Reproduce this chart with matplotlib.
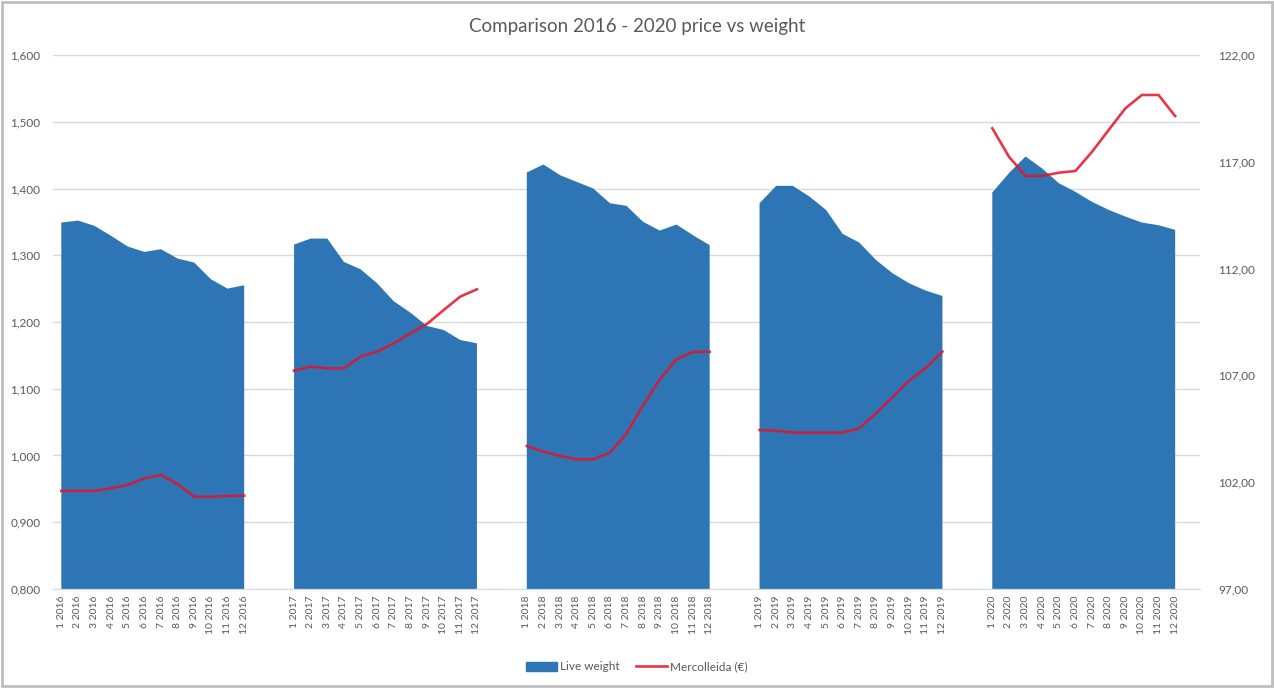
import numpy as np
import matplotlib
matplotlib.use("Agg")
import matplotlib.pyplot as plt
from matplotlib.patches import Rectangle
from matplotlib.ticker import FixedLocator, FuncFormatter

plt.rcParams['font.family'] = ['Lato', 'DejaVu Sans']

years = [2016, 2017, 2018, 2019, 2020]
months = list(range(1, 13))

weight_2016 = [1.349, 1.352, 1.344, 1.329, 1.313, 1.305, 1.309, 1.295, 1.289, 1.264, 1.250, 1.255]
weight_2017 = [1.316, 1.325, 1.325, 1.290, 1.279, 1.258, 1.231, 1.214, 1.194, 1.188, 1.173, 1.168]
weight_2018 = [1.424, 1.436, 1.420, 1.410, 1.400, 1.378, 1.374, 1.350, 1.337, 1.346, 1.330, 1.315]
weight_2019 = [1.378, 1.404, 1.404, 1.388, 1.368, 1.332, 1.319, 1.293, 1.273, 1.258, 1.247, 1.239]
weight_2020 = [1.394, 1.423, 1.448, 1.430, 1.408, 1.395, 1.380, 1.368, 1.358, 1.349, 1.345, 1.338]

price_2016 = [101.59, 101.59, 101.59, 101.71, 101.87, 102.18, 102.34, 101.90, 101.32, 101.32, 101.35, 101.37]
price_2017 = [107.22, 107.41, 107.33, 107.33, 107.88, 108.11, 108.50, 108.97, 109.41, 110.06, 110.69, 111.03]
price_2018 = [103.69, 103.43, 103.23, 103.07, 103.07, 103.38, 104.29, 105.61, 106.82, 107.75, 108.10, 108.10]
price_2019 = [104.44, 104.41, 104.32, 104.32, 104.32, 104.32, 104.52, 105.22, 105.98, 106.76, 107.35, 108.11]
price_2020 = [118.57, 117.24, 116.34, 116.34, 116.49, 116.57, 117.47, 118.49, 119.50, 120.13, 120.13, 119.14]

weights = [weight_2016, weight_2017, weight_2018, weight_2019, weight_2020]
prices = [price_2016, price_2017, price_2018, price_2019, price_2020]

left_ticks = [0.8, 0.9, 1.0, 1.1, 1.2, 1.3, 1.4, 1.5, 1.6]
right_ticks = [97, 102, 107, 112, 117, 122]

title = "Comparison 2016 - 2020 price vs weight"
label_weight = "Live weight"
label_price = "Mercolleida (€)"

# Build category sequence: 12 months per year, 2 blank categories between years
cats, w_vals, p_vals = [], [], []
for k, y in enumerate(years):
    for m in months:
        cats.append(f"{m} {y}")
    w_vals.extend(weights[k])
    p_vals.extend(prices[k])
    if k < len(years) - 1:
        cats.extend(["", ""])
        w_vals.extend([np.nan, np.nan])
        p_vals.extend([np.nan, np.nan])

x = np.arange(len(cats))
w_vals = np.array(w_vals, dtype=float)
p_vals = np.array(p_vals, dtype=float)

fig = plt.figure(figsize=(12.74, 6.88), dpi=100)
ax = fig.add_axes([0.0416, 0.144, 0.942 - 0.0416, 0.92 - 0.144])
ax2 = ax.twinx()

blue = '#2E75B6'
ax.fill_between(x, 0.8, w_vals, where=~np.isnan(w_vals), color=blue, lw=0, zorder=2,
                label=label_weight)
line, = ax2.plot(x, p_vals, color='#E0142A', lw=1.9, alpha=0.85, zorder=3, label=label_price,
                 solid_joinstyle='round')

ax.set_xlim(-0.5, len(cats) + 0.5)
ax.set_ylim(0.8, 1.6)
ax2.set_ylim(97, 122)

ax.yaxis.set_major_locator(FixedLocator(left_ticks))
ax.yaxis.set_major_formatter(FuncFormatter(lambda v, p: f"{v:.3f}".replace('.', ',')))
ax2.yaxis.set_major_locator(FixedLocator(right_ticks))
ax2.yaxis.set_major_formatter(FuncFormatter(lambda v, p: f"{v:.2f}".replace('.', ',')))

ax.set_xticks(x)
ax.set_xticklabels(cats, rotation=90, fontsize=7.5, color='#595959')
ax.tick_params(axis='x', length=0, pad=5)
ax.tick_params(axis='y', length=0, labelsize=8.5, labelcolor='#595959', pad=9)
ax2.tick_params(axis='y', length=0, labelsize=8.5, labelcolor='#595959', pad=13)

ax.grid(axis='y', color='#D9D9D9', lw=1, zorder=0)
ax.set_axisbelow(True)
for a in (ax, ax2):
    for s in ['top', 'left', 'right']:
        a.spines[s].set_visible(False)
    a.spines['bottom'].set_color('#D0DCEB')
ax2.spines['bottom'].set_visible(False)

fig.text(0.5, 0.962, title, ha='center', va='center', fontsize=13.5, color='#595959')

handles = [Rectangle((0, 0), 1, 1, color=blue), line]
fig.legend(handles, [label_weight, label_price], loc='center', bbox_to_anchor=(0.5, 0.031),
           ncol=2, frameon=False, fontsize=8.5, handlelength=2.6, handleheight=0.8,
           handletextpad=0.3, columnspacing=1.4, labelcolor='#595959')

fig.add_artist(Rectangle((0.0015, 0.003), 0.997, 0.994, transform=fig.transFigure,
                         fill=False, edgecolor='#BFBFBF', lw=2))

fig.savefig('out.png', dpi=100, facecolor='white')
